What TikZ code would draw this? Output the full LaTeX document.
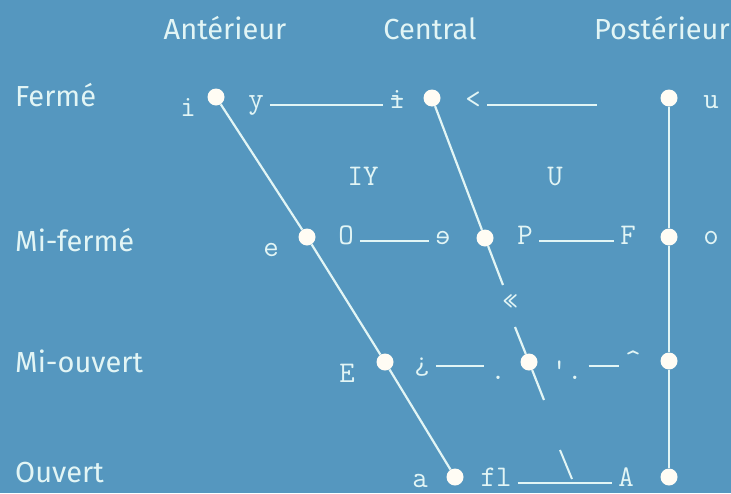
\documentclass[tikz,border=0pt]{standalone}
\usepackage{fontspec}
\setmainfont{Fira Sans}
\usepackage{graphicx}
\usepackage{tikz}
\usetikzlibrary{calc}
\definecolor{chartbg}{RGB}{85,151,191}
\definecolor{chalk}{RGB}{226,245,245}
\definecolor{dotwhite}{RGB}{255,252,244}
\tikzset{
  axislabel/.style={font=\fontsize{29}{30}\selectfont, text=chalk, inner sep=0pt},
  ipa/.style={font=\ttfamily\fontsize{30}{30}\selectfont, text=chalk, inner sep=0pt, anchor=base},
  vowel/.style={circle, fill=dotwhite, minimum size=17pt, inner sep=0pt},
  tongue/.style={draw=chalk, line width=2.2pt},
  pairline/.style={draw=chalk, line width=2pt, shorten <=6pt, shorten >=6pt}
}

\begin{document}
\begin{tikzpicture}[x=1pt,y=-1pt]
\fill[chartbg] (0,0) rectangle (731,493);
\useasboundingbox (0,0) rectangle (731,493);

% column and row heads
\node[axislabel, anchor=base] (front) at (225,39) {Antérieur};
\node[axislabel, anchor=base] (central) at (430,39) {Central};
\node[axislabel, anchor=base] (back) at (662,39) {Postérieur};
\node[axislabel, anchor=base west] (close) at (15,106) {Fermé};
\node[axislabel, anchor=base west] (closemid) at (15,251) {Mi-fermé};
\node[axislabel, anchor=base west] (openmid) at (15,372) {Mi-ouvert};
\node[axislabel, anchor=base west] (open) at (15,482) {Ouvert};

% vowel points
\node[vowel] (fc) at (216,97) {};
\node[vowel] (fcm) at (307,237) {};
\node[vowel] (fom) at (385,362) {};
\node[vowel] (fo) at (455,477) {};
\node[vowel] (cc) at (432,98) {};
\node[vowel] (ccm) at (485,238) {};
\node[vowel] (com) at (529,362) {};
\node[vowel] (bc) at (669,98) {};
\node[vowel] (bcm) at (669,237) {};
\node[vowel] (bom) at (669,361) {};
\node[vowel] (bo) at (669,477) {};

\coordinate (cgapA) at (503,285);
\coordinate (cgapB) at (515,327);
\coordinate (cbot) at (544,400);
\coordinate (ltend) at (603,100);
\coordinate (ticktop) at (560,450);
\coordinate (tickfoot) at (572,479);

\draw[tongue] (fc) -- (fcm) -- (fom) -- (fo);
\draw[tongue] (cc) -- (ccm);
\draw[tongue] (ccm) -- (cgapA);
\draw[tongue] (cgapB) -- (com);
\draw[tongue] (com) -- (cbot);
\draw[tongue] (bc) -- (bcm) -- (bom) -- (bo);

% symbols
\node[ipa] (i) at (188,116) {i};
\node[ipa] (y) at (256,108) {y};
\node[ipa] (ibar) at (397,108) {\rlap{i}-};
\node[ipa] (lt) at (473,108) {<};
\node[ipa] (u) at (711,108) {u};
\node[ipa] (IY) at (363,185) {IY};
\node[ipa] (U) at (555,185) {U};
\node[ipa] (e) at (271,256) {e};
\node[ipa] (O) at (346,244) {O};
\node[ipa] (schwa) at (443,244) {\scalebox{-1}[1]{e}};
\node[ipa] (P) at (525,244) {P};
\node[ipa] (F) at (628,244) {F};
\node[ipa] (o) at (711,244) {o};
\node[ipa] (guil) at (510,310) {«};
\node[ipa] (E) at (347,382) {E};
\node[ipa] (inv) at (422,369) {¿};
\node[ipa] (dotA) at (498,379) {.};
\node[ipa] (quote) at (567,379) {'.};
\node[ipa] (caret) at (633,369) {\^{}};
\node[ipa] (a) at (420,487) {a};
\node[ipa] (fl) at (496,486) {fl};
\node[ipa] (A) at (626,486) {A};

\draw[pairline] (y.mid east) -- (ibar.mid west);
\draw[pairline] (lt.mid east) -- (lt.mid east -| ltend);
\draw[pairline] (O.mid east) -- (schwa.mid west);
\draw[pairline] (P.mid east) -- (F.mid west);
\draw[pairline] (inv.mid east) -- (inv.mid east -| dotA.west);
\draw[pairline] (caret.mid west -| quote.east) -- (caret.mid west);
\draw[pairline] (fl.mid east) -- (A.mid west);
\draw[tongue, line width=2pt] (ticktop) -- (tickfoot);
\end{tikzpicture}
\end{document}
